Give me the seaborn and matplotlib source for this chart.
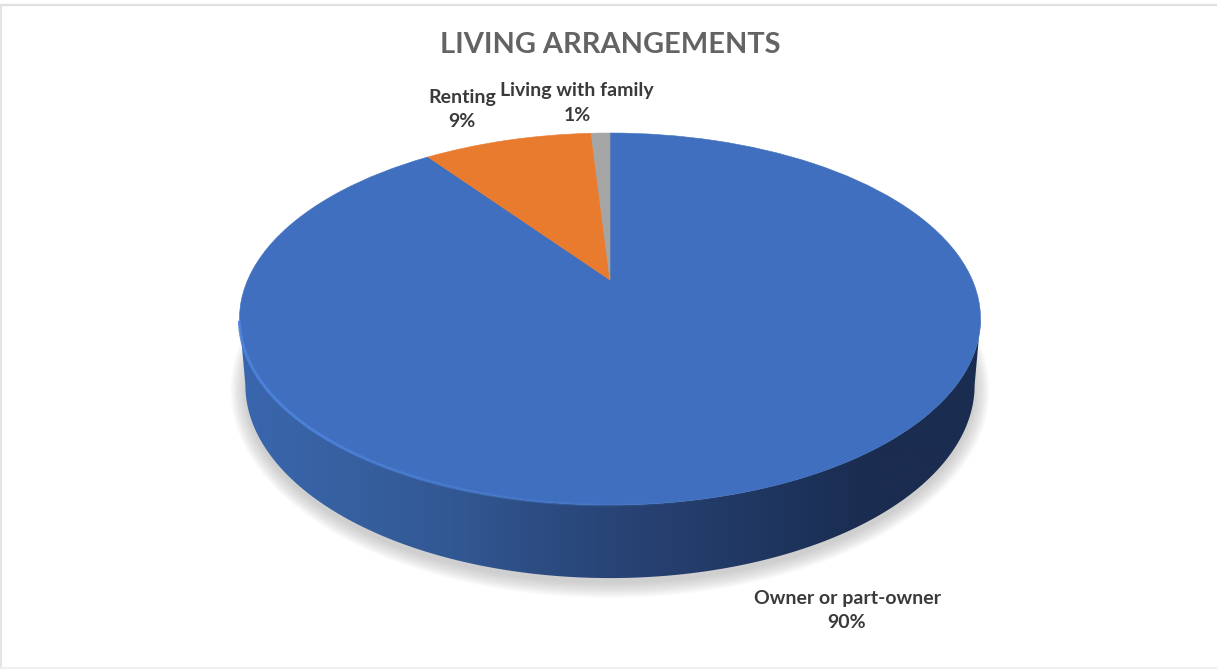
import numpy as np
import matplotlib
matplotlib.use('Agg')
import matplotlib.pyplot as plt
import matplotlib.transforms as mtransforms
from matplotlib.colors import LinearSegmentedColormap
from matplotlib.patches import Polygon
from matplotlib.collections import LineCollection
import seaborn as sns

# DATA
title = 'LIVING ARRANGEMENTS'
categories = ['Owner or part-owner', 'Renting', 'Living with family']
shares = [90, 9, 1]
slice_colors = ['#3F6FBE', '#E97B2F', '#A5A5A5']
side_colors = ['#3A66AE', '#36609F', '#325893', '#2B4A7F', '#263F6E', '#1F3660', '#1A2C4F', '#1A2C4F']

sns.set_theme(style='white')
plt.rcParams['font.family'] = ['Lato', 'DejaVu Sans']

W, H = 1217, 669
CX = 610.0
TILT = 0.2097
SLOPE = -119.1
APEX_Y = 280.0
KX = 362.3


# the slices are drawn flat and this puts them on the tilted disc
class TiltWarp(mtransforms.Transform):
    input_dims = 2
    output_dims = 2

    def transform_non_affine(self, values):
        values = np.asarray(values, dtype=float)
        u, v = values[:, 0], values[:, 1]
        d = 1 + TILT * v
        return np.column_stack([CX + KX * u / d, (APEX_Y + SLOPE * v) / d])


warp = TiltWarp()


def rim(angles):
    return warp.transform_non_affine(np.column_stack([np.cos(angles), np.sin(angles)]))


def lower_rim(angles):
    p = rim(angles)
    p[:, 0] = CX + (p[:, 0] - CX) * 0.984
    p[:, 1] = 385 + (p[:, 1] - 319) * 1.038
    return p


fig, ax = plt.subplots(figsize=(W / 100, H / 100), dpi=100)
fig.subplots_adjust(0, 0, 1, 1)

wedges, _ = ax.pie(shares, colors=sns.color_palette(slice_colors), startangle=90,
                   counterclock=False, wedgeprops={'linewidth': 0.4, 'zorder': 5})
for w, c in zip(wedges, slice_colors):
    w.set_edgecolor(c)
    w.set_transform(warp + ax.transData)

ax.set_aspect('auto')

# SHADOW
full = np.linspace(0, 2 * np.pi, 400)
shadow = lower_rim(full)
for grow in np.linspace(0, 15, 14):
    ring = shadow.copy()
    ring[:, 0] = CX + (ring[:, 0] - CX) * (1 + grow / 365)
    ring[:, 1] = 390 + (ring[:, 1] - 385) * (1 + grow / 195)
    ax.add_patch(Polygon(ring, closed=True, fc='#7a7a7a', ec='none', alpha=0.028, zorder=1))

# SIDE WALL
t0 = np.pi + np.arcsin(TILT)
t1 = 2 * np.pi - np.arcsin(TILT)
front = np.linspace(t0, t1, 300)
wall = np.vstack([rim(front), lower_rim(front)[::-1]])
wall_patch = Polygon(wall, closed=True, fc='none', ec='none', transform=ax.transData)
ax.add_patch(wall_patch)
side_cmap = LinearSegmentedColormap.from_list('side', side_colors)
im = ax.imshow(np.linspace(0, 1, 256)[None, :], cmap=side_cmap, aspect='auto',
               extent=(240, 981, 590, 300), zorder=3)
im.set_clip_path(wall_patch)

# bright edge along the front left of the disc
edge = rim(np.linspace(t0 + 0.01, t0 + 1.6, 160))
segs = np.stack([edge[:-1], edge[1:]], axis=1)
fade = np.clip(np.linspace(1.5, 0, len(segs)), 0, 1)
lc = LineCollection(segs, colors='#4C82DA', linewidths=2.2, zorder=6)
lc.set_alpha(fade)
ax.add_collection(lc)

# TEXT
ax.text(610, 45, title, ha='center', va='center', fontsize=20.9, fontweight='bold', color='#636363', zorder=8)

label_pos = [(847, 610.5), (462, 109.5), (577, 103)]
for name, share, (lx, ly) in zip(categories, shares, label_pos):
    ax.text(lx, ly, f'{name}\n{share}%', ha='center', va='center', fontsize=14,
            fontweight='bold', color='#3A3A3A', linespacing=1.52, zorder=8)

# the frame shows on the top and left, only faintly at the bottom, not on the right
ax.hlines(5, 0, W, color='#E0E0E0', lw=1.6, zorder=9)
ax.vlines(1, 5, H, color='#E4E4E4', lw=1.6, zorder=9)
ax.hlines(668, 0, W, color='#EEEEEE', lw=1.2, zorder=9)

ax.set_xlim(0, W)
ax.set_ylim(H, 0)

fig.savefig('out.png', dpi=100)
plt.close()
